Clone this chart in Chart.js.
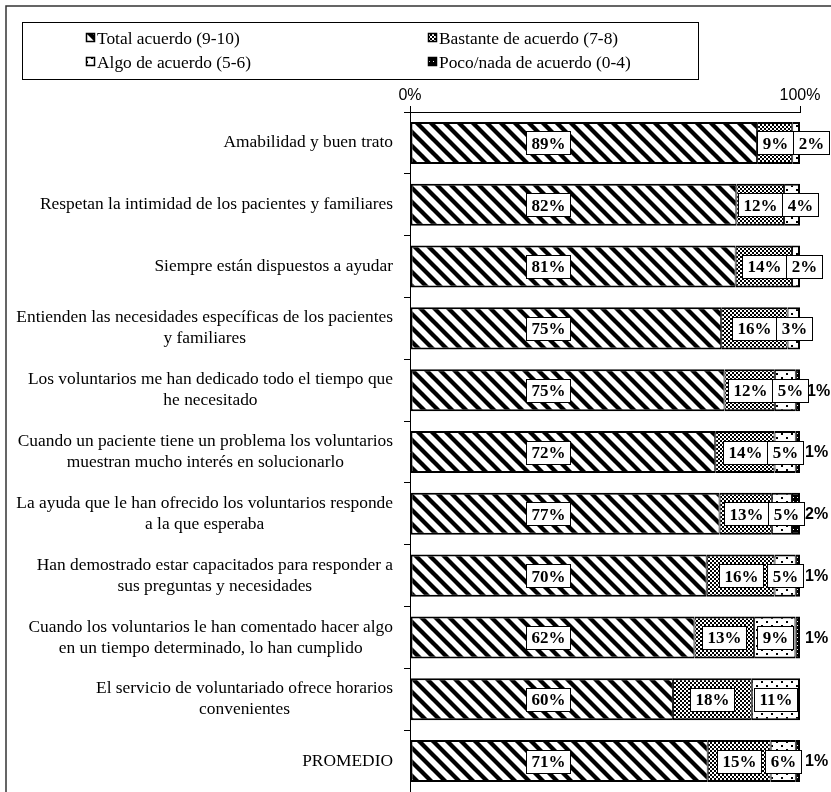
<!DOCTYPE html>
<html>
<head>
<meta charset="utf-8">
<script src="https://cdn.jsdelivr.net/npm/chart.js@4.4.1/dist/chart.umd.min.js"></script>
<style>
  html, body { margin: 0; padding: 0; background: #fff; }
  #wrap { width: 831px; height: 792px; position: relative; }
</style>
</head>
<body>
<div id="wrap"><canvas id="c" width="831" height="792"></canvas></div>
<script>
// Survey items (wrapped exactly as they appear on the axis)
const categories = [
  ["Amabilidad y buen trato"],
  ["Respetan la intimidad de los pacientes y familiares"],
  ["Siempre están dispuestos a ayudar"],
  ["Entienden las necesidades específicas de los pacientes", "y familiares"],
  ["Los voluntarios me han dedicado todo el tiempo que", "he necesitado"],
  ["Cuando un paciente tiene un problema los voluntarios", "muestran mucho interés en solucionarlo"],
  ["La ayuda que le han ofrecido los voluntarios responde", "a la que esperaba"],
  ["Han demostrado estar capacitados para responder a", "sus preguntas y necesidades"],
  ["Cuando los voluntarios le han comentado hacer algo", "en un tiempo determinado, lo han cumplido"],
  ["El servicio de voluntariado ofrece horarios", "convenientes"],
  ["PROMEDIO"]
];

const seriesNames = [
  "Total acuerdo (9-10)",
  "Bastante de acuerdo (7-8)",
  "Algo de acuerdo (5-6)",
  "Poco/nada de acuerdo (0-4)"
];

// Percentages of respondents per answer band
const totalAcuerdo = [89, 82, 81, 75, 75, 72, 77, 70, 62, 60, 71];
const bastante     = [ 9, 12, 14, 16, 12, 14, 13, 16, 13, 18, 15];
const algo         = [ 2,  4,  2,  3,  5,  5,  5,  5,  9, 11,  6];
const poco         = [ 0,  0,  0,  0,  1,  1,  2,  1,  1,  0,  1];

const axisTicks = [0, 100];

const SERIF = "'Liberation Serif', 'Times New Roman', serif";
const SANS = "'Liberation Sans', Arial, sans-serif";
const TEXT_SIZE = 17.4;

// ---- fill patterns -------------------------------------------------------
function tile(w, h, paint) {
  const c = document.createElement('canvas');
  c.width = w; c.height = h;
  const g = c.getContext('2d');
  paint(g, w, h);
  return c;
}
const scratch = document.createElement('canvas').getContext('2d');

const patStripes = scratch.createPattern(tile(14, 14, (g, w, h) => {
  g.fillStyle = '#fff'; g.fillRect(0, 0, w, h);
  g.strokeStyle = '#000'; g.lineWidth = 4.3;
  for (const o of [-14, 0, 14]) {
    g.beginPath(); g.moveTo(o - 2, -2); g.lineTo(o + 16, 16); g.stroke();
  }
}), 'repeat');

const patChecker = scratch.createPattern(tile(4, 4, (g, w, h) => {
  g.fillStyle = '#fff'; g.fillRect(0, 0, w, h);
  g.fillStyle = '#000'; g.fillRect(0, 0, 2, 2); g.fillRect(2, 2, 2, 2);
}), 'repeat');

const patDots = scratch.createPattern(tile(10, 8, (g, w, h) => {
  g.fillStyle = '#fff'; g.fillRect(0, 0, w, h);
  g.fillStyle = '#000'; g.fillRect(1, 1, 2, 2); g.fillRect(6, 5, 2, 2);
}), 'repeat');

const patDark = scratch.createPattern(tile(4, 4, (g, w, h) => {
  g.fillStyle = '#000'; g.fillRect(0, 0, w, h);
  g.fillStyle = '#fff'; g.fillRect(1, 1, 1, 1);
}), 'repeat');

const fills = [patStripes, patChecker, patDots, patDark];
const rawSeries = [totalAcuerdo, bastante, algo, poco];

// each row is drawn as shares of its own total (100% stacked bars)
const rowTotals = categories.map((_, i) => rawSeries.reduce((s, arr) => s + arr[i], 0));
const shares = rawSeries.map(arr => arr.map((v, i) => v === 0 ? null : v / rowTotals[i] * 100));

function lastSeriesOfRow(i) {
  let last = 0;
  rawSeries.forEach((arr, d) => { if (arr[i] > 0) last = d; });
  return last;
}

const datasets = seriesNames.map((name, d) => ({
  label: name,
  data: shares[d],
  backgroundColor: fills[d],
  borderColor: '#000',
  borderWidth: ctx => ({
    top: 2, bottom: 2,
    left: d === 0 ? 2 : 1,
    right: d === lastSeriesOfRow(ctx.dataIndex) ? 2 : 1
  }),
  borderSkipped: false,
  barPercentage: 0.68,
  categoryPercentage: 1
}));

// ---- frame + legend ------------------------------------------------------
const frameLegend = {
  id: 'frameLegend',
  beforeDraw(chart) {
    const ctx = chart.ctx;
    ctx.save();
    ctx.fillStyle = '#fff';
    ctx.fillRect(0, 0, chart.width, chart.height);
    ctx.strokeStyle = '#333';
    ctx.lineWidth = 1.5;
    ctx.strokeRect(6, 6, chart.width + 20, chart.height + 20);

    // legend box
    ctx.strokeStyle = '#000';
    ctx.lineWidth = 1;
    ctx.strokeRect(22.5, 22.5, 676, 57);
    const cols = [86, 428];
    const rows = [38, 62];
    ctx.font = TEXT_SIZE + 'px ' + SERIF;
    ctx.textBaseline = 'middle';
    ctx.textAlign = 'left';
    chart.data.datasets.forEach((ds, d) => {
      const x = cols[d % 2], y = rows[Math.floor(d / 2)];
      ctx.fillStyle = ds.backgroundColor;
      ctx.fillRect(x, y - 5, 9, 9);
      ctx.strokeStyle = '#000';
      ctx.lineWidth = 1.5;
      ctx.strokeRect(x + 0.5, y - 4.5, 8, 8);
      ctx.fillStyle = '#000';
      ctx.fillText(ds.label, x + 11, y + 1);
    });
    ctx.restore();
  }
};

// ---- category labels (centred lines, right-aligned block) ---------------
const categoryLabels = {
  id: 'categoryLabels',
  afterDraw(chart) {
    const ctx = chart.ctx;
    const ys = chart.scales.y;
    ctx.save();
    ctx.font = TEXT_SIZE + 'px ' + SERIF;
    ctx.fillStyle = '#000';
    ctx.textAlign = 'center';
    ctx.textBaseline = 'middle';
    const right = ys.right - 17;
    const lh = 21;
    chart.data.labels.forEach((lines, i) => {
      const yc = ys.getPixelForValue(i);
      const w = Math.max(...lines.map(l => ctx.measureText(l).width));
      const cx = right - w / 2;
      lines.forEach((l, k) => {
        ctx.fillText(l, cx, yc + (k - (lines.length - 1) / 2) * lh);
      });
    });
    ctx.restore();
  }
};

// ---- value labels --------------------------------------------------------
const valueLabels = {
  id: 'valueLabels',
  afterDatasetsDraw(chart) {
    const ctx = chart.ctx;
    const xs = chart.scales.x;
    ctx.save();
    ctx.textBaseline = 'middle';

    function box(text, cx, cy, minLeft) {
      ctx.font = 'bold 17px ' + SERIF;
      const w = Math.round(ctx.measureText(text).width + 10);
      const h = 23;
      let left = cx - w / 2;
      if (minLeft !== undefined && left < minLeft) left = minLeft;
      left = Math.round(left);
      const top = Math.round(cy - h / 2);
      ctx.fillStyle = '#fff';
      ctx.fillRect(left, top, w, h);
      ctx.strokeStyle = '#000';
      ctx.lineWidth = 1;
      ctx.strokeRect(left + 0.5, top + 0.5, w, h);
      ctx.fillStyle = '#000';
      ctx.textAlign = 'center';
      ctx.fillText(text, left + w / 2 + 0.5, cy + 1.5);
      return left + w;
    }

    categories.forEach((_, i) => {
      const bars = [0, 1, 2, 3].map(d => chart.getDatasetMeta(d).data[i]);
      const cy = bars[0].y;

      box(totalAcuerdo[i] + '%', xs.getPixelForValue(35.4), cy);
      const b = bars[1];
      const r1 = box(bastante[i] + '%', (b.base + b.x) / 2, cy);
      const a = bars[2];
      const r2 = box(algo[i] + '%', (a.base + a.x) / 2, cy, r1);

      // smallest band is labelled just past the end of the bar
      if (poco[i] > 0) {
        ctx.font = 'bold 16px ' + SANS;
        ctx.fillStyle = '#000';
        ctx.textAlign = 'left';
        const lx = Math.min(Math.max(xs.right + 5, r2 + 1), xs.right + 7);
        ctx.fillText(poco[i] + '%', lx, cy + 1);
      }
    });
    ctx.restore();
  }
};

new Chart(document.getElementById('c'), {
  type: 'bar',
  data: { labels: categories, datasets },
  plugins: [frameLegend, categoryLabels, valueLabels],
  options: {
    indexAxis: 'y',
    responsive: false,
    animation: false,
    devicePixelRatio: 1,
    layout: { padding: { left: 0, right: 31, top: 0, bottom: 0 } },
    plugins: { legend: { display: false }, tooltip: { enabled: false } },
    scales: {
      x: {
        type: 'linear',
        position: 'top',
        stacked: true,
        min: 0,
        max: 100,
        afterBuildTicks: s => { s.ticks = axisTicks.map(v => ({ value: v })); },
        ticks: {
          callback: v => v + '%',
          font: { family: SANS, size: 16 },
          color: '#000',
          padding: 1,
          maxRotation: 0,
          autoSkip: false
        },
        grid: { drawOnChartArea: false, drawTicks: true, tickLength: 6, color: '#000', lineWidth: 1 },
        border: { display: true, color: '#000', width: 1 },
        afterFit: s => { s.height = 112; }
      },
      y: {
        type: 'category',
        stacked: true,
        offset: true,
        ticks: { display: false },
        grid: { offset: true, drawOnChartArea: false, drawTicks: true, tickLength: 6, color: '#000', lineWidth: 1 },
        border: { display: true, color: '#000', width: 1 },
        afterFit: s => { s.width = 410; }
      }
    }
  }
});
</script>
</body>
</html>
